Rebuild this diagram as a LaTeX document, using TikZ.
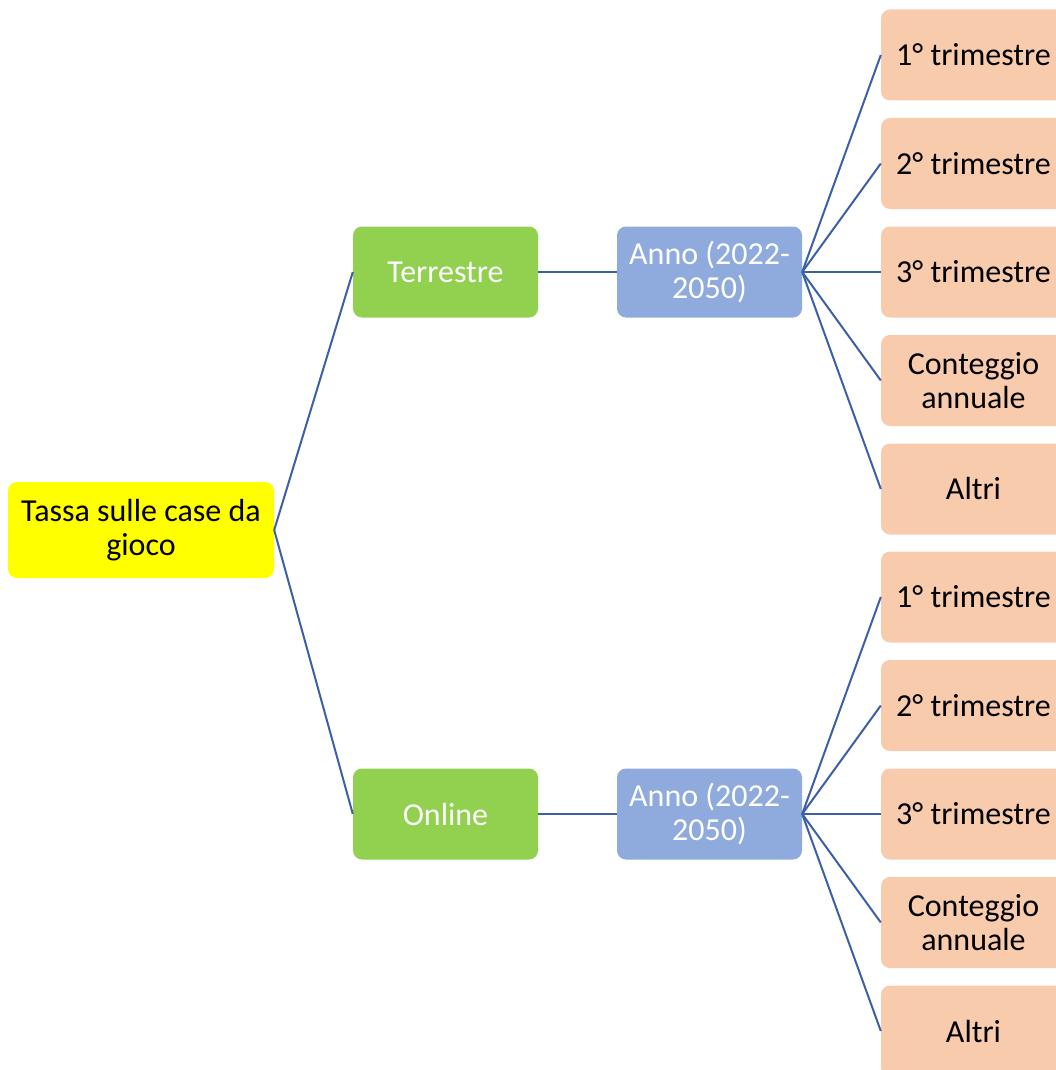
\documentclass[tikz,border=0pt]{standalone}
\usepackage{fontspec}
\setmainfont{Carlito}
\definecolor{rootyellow}{HTML}{FFFF00}
\definecolor{levelgreen}{HTML}{92D050}
\definecolor{yearblue}{HTML}{8FAADC}
\definecolor{quarterpeach}{HTML}{F8CBAD}
\definecolor{linkblue}{HTML}{3C5FA6}
\tikzset{
  box/.style={rounded corners=9pt, minimum width=185pt, minimum height=91pt,
    align=center, font=\fontsize{32}{34}\selectfont, inner sep=2pt},
  rootbox/.style={box, fill=rootyellow, minimum width=266pt, minimum height=96pt},
  levelbox/.style={box, fill=levelgreen, text=white},
  yearbox/.style={box, fill=yearblue, text=white},
  quarterbox/.style={box, fill=quarterpeach, text=black},
  link/.style={draw=linkblue, line width=2pt}
}
\begin{document}
\begin{tikzpicture}[x=1pt,y=-1pt]
  \useasboundingbox (0,0) rectangle (1056,1070);
  \node[rootbox] (root) at (141,530) {Tassa sulle case da\\gioco};
  \node[levelbox] (terr) at (445.5,272) {Terrestre};
  \node[levelbox] (onl) at (445.5,814) {Online};
  \node[yearbox] (yterr) at (709.5,272) {Anno (2022-\\2050)};
  \node[yearbox] (yonl) at (709.5,814) {Anno (2022-\\2050)};
  \draw[link] (root.east) -- (terr.west);
  \draw[link] (root.east) -- (onl.west);
  \draw[link] (terr.east) -- (yterr.west);
  \draw[link] (onl.east) -- (yonl.west);
  % quarters for each branch
  \foreach \br/\y in {terr/55,onl/597} {
    \foreach \lab [count=\i from 0] in {1° trimestre,2° trimestre,3° trimestre,Conteggio\\annuale,Altri} {
      \node[quarterbox] (q\br\i) at (973.5,\y+108.5*\i) {\lab};
      \draw[link] (y\br.east) -- (q\br\i.west);
    }
  }
\end{tikzpicture}
\end{document}
